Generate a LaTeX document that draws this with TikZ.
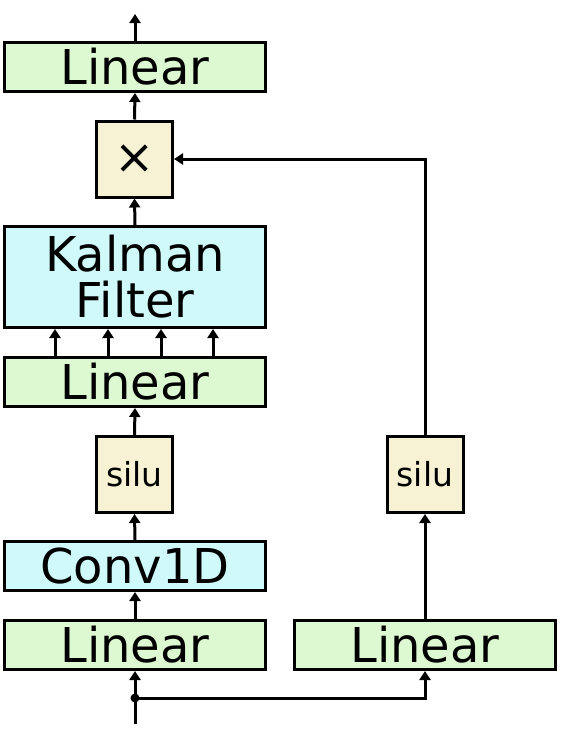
\documentclass[tikz,border=0pt]{standalone}
\usepackage{fontspec}
\setmainfont{DejaVu Sans}
\usetikzlibrary{arrows.meta}
\definecolor{lingreen}{RGB}{221,249,209}
\definecolor{kcyan}{RGB}{208,250,250}
\definecolor{tanbox}{RGB}{248,242,212}
\begin{document}
\begin{tikzpicture}[x=1pt,y=-1pt,
  box/.style={draw=black, line width=3pt, inner sep=0pt, align=center},
  wide/.style={box, minimum width=261pt, minimum height=49pt, font=\fontsize{48}{48}\selectfont},
  sq/.style={box, fill=tanbox, minimum width=76pt, minimum height=76pt},
  arr/.style={line width=3pt, -{Triangle[length=9pt,width=11pt]}},
  ln/.style={line width=3pt}
]
\useasboundingbox (0,0) rectangle (586,736);
\node[wide, fill=lingreen] (lin4) at (135,67) {Linear};
\node[sq, font=\fontsize{48}{48}\selectfont] (mul) at (134.5,159) {×};
\node[wide, fill=kcyan, minimum height=101pt] (kf) at (135,277) {Kalman\\[-2pt]Filter};
\node[wide, fill=lingreen] (lin3) at (135,382) {Linear};
\node[sq, font=\fontsize{33}{34}\selectfont] (silu1) at (134.5,474.5) {silu};
\node[wide, fill=kcyan] (conv) at (135,566) {Conv1D};
\node[wide, fill=lingreen] (lin1) at (135,645) {Linear};
\node[wide, fill=lingreen] (lin2) at (425,645) {Linear};
\node[sq, font=\fontsize{33}{34}\selectfont] (silu2) at (425,474.5) {silu};
\coordinate (in) at (135,724);
\coordinate (dot) at (135,698);
\coordinate (out) at (135,14);

\draw[arr] (in) -- (lin1.south);
\fill (dot) circle (4.5pt);
\draw[arr] (dot) -| (lin2.south);
\draw[arr] (lin1.north) -- (conv.south);
\draw[arr] (conv.north) -- (silu1.south);
\draw[arr] (silu1.north) -- (lin3.south);
\foreach \dx in {-80,-27,26,78}
  \draw[arr] ([xshift=\dx pt]lin3.north) -- ([xshift=\dx pt]kf.south);
\draw[arr] (kf.north) -- (mul.south);
\draw[arr] (mul.north) -- (lin4.south);
\draw[arr] (lin4.north) -- (out);
\draw[arr] (lin2.north) -- (silu2.south);
\draw[arr] (silu2.north) |- (mul.east);
\end{tikzpicture}
\end{document}
